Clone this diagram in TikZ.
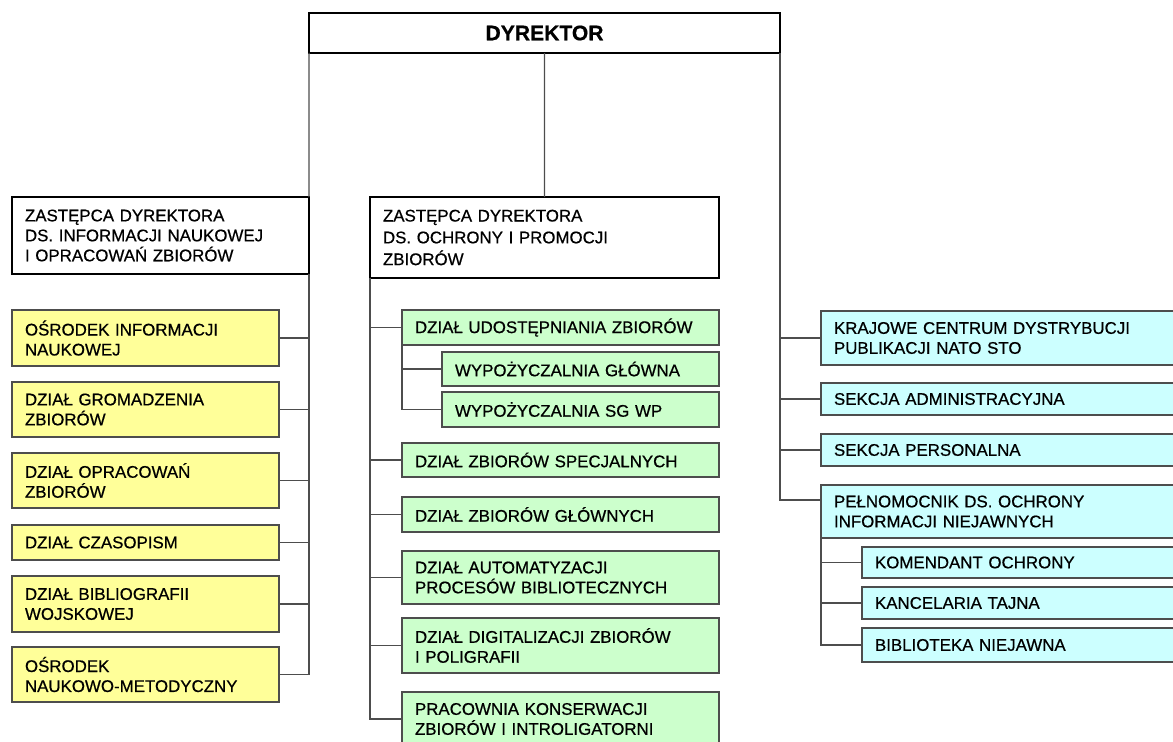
\documentclass[tikz,border=0pt]{standalone}
\usepackage{fontspec}
\setmainfont{Liberation Sans}[FakeBold=0.6]
\usetikzlibrary{positioning}
\definecolor{unityellow}{HTML}{FFFF99}
\definecolor{unitgreen}{HTML}{CCFFCC}
\definecolor{unitcyan}{HTML}{CCFFFF}
\definecolor{linegray}{HTML}{4D4D4D}
\tikzset{
every node/.style={anchor=north west, outer sep=0pt, inner xsep=0.325cm, inner ysep=0pt, align=left, font=\fontsize{12}{14.2}\selectfont}, % boxes are placed by their top left corner
head/.style={draw=black, line width=1.5pt, fill=white}, % director and deputies
unit/.style={draw=linegray, line width=0.9pt}, % every coloured box
yellowunit/.style={unit, fill=unityellow, text width=6.025cm},
greenunit/.style={unit, fill=unitgreen, text width=7.275cm},
greensub/.style={unit, fill=unitgreen, text width=6.275cm},
cyanunit/.style={unit, fill=unitcyan, text width=8.325cm},
cyansub/.style={unit, fill=unitcyan, text width=7.3cm},
link/.style={draw=linegray, line width=0.9pt}, % connecting lines
}
\begin{document}
\begin{tikzpicture}[x=0.025cm, y=-0.025cm]
        \clip (0,0) rectangle (1173,742);

        \node[head, minimum height=1cm, text width=11.125cm, align=center, font=\fontsize{15}{18}\selectfont\bfseries] (dyr) at (309,13) {DYREKTOR};

        % left deputy and its units
        \node[head, minimum height=1.925cm, text width=6.775cm] (depL) at (12,197) {ZASTĘPCA DYREKTORA\\DS. INFORMACJI NAUKOWEJ\\I OPRACOWAŃ ZBIORÓW};
        \node[yellowunit, minimum height=1.4cm] (oni) at (12,310) {OŚRODEK INFORMACJI\\NAUKOWEJ};
        \node[yellowunit, minimum height=1.375cm] (dgz) at (12,382) {DZIAŁ GROMADZENIA\\ZBIORÓW};
        \node[yellowunit, minimum height=1.375cm] (doz) at (12,453) {DZIAŁ OPRACOWAŃ\\ZBIORÓW};
        \node[yellowunit, minimum height=0.875cm] (dcz) at (12,525) {DZIAŁ CZASOPISM};
        \node[yellowunit, minimum height=1.4cm] (dbw) at (12,576) {DZIAŁ BIBLIOGRAFII\\WOJSKOWEJ};
        \node[yellowunit, minimum height=1.375cm] (onm) at (12,647) {OŚRODEK\\NAUKOWO-METODYCZNY};

        % middle deputy and its units
        \node[head, minimum height=2.025cm, text width=8.075cm, font=\fontsize{12}{15.5}\selectfont] (depM) at (370,197) {ZASTĘPCA DYREKTORA\\DS. OCHRONY I PROMOCJI\\ZBIORÓW};
        \node[greenunit, minimum height=0.875cm] (duz) at (402,310) {DZIAŁ UDOSTĘPNIANIA ZBIORÓW};
        \node[greensub, minimum height=0.85cm] (wg) at (442,352) {WYPOŻYCZALNIA GŁÓWNA};
        \node[greensub, minimum height=0.875cm] (wsg) at (442,392) {WYPOŻYCZALNIA SG WP};
        \node[greenunit, minimum height=0.85cm] (dzs) at (402,443) {DZIAŁ ZBIORÓW SPECJALNYCH};
        \node[greenunit, minimum height=0.875cm] (dzg) at (402,497) {DZIAŁ ZBIORÓW GŁÓWNYCH};
        \node[greenunit, minimum height=1.325cm] (dap) at (402,551) {DZIAŁ AUTOMATYZACJI\\PROCESÓW BIBLIOTECZNYCH};
        \node[greenunit, minimum height=1.375cm] (ddz) at (402,618) {DZIAŁ DIGITALIZACJI ZBIORÓW\\I POLIGRAFII};
        \node[greenunit, minimum height=1.35cm] (pkz) at (402,692) {PRACOWNIA KONSERWACJI\\ZBIORÓW I INTROLIGATORNI};

        % units under the director
        \node[cyanunit, minimum height=1.35cm] (kcd) at (821,311) {KRAJOWE CENTRUM DYSTRYBUCJI\\PUBLIKACJI NATO STO};
        \node[cyanunit, minimum height=0.8cm] (sa) at (821,383) {SEKCJA ADMINISTRACYJNA};
        \node[cyanunit, minimum height=0.8cm] (sp) at (821,434) {SEKCJA PERSONALNA};
        \node[cyanunit, minimum height=1.325cm] (pdo) at (821,485) {PEŁNOMOCNIK DS. OCHRONY\\INFORMACJI NIEJAWNYCH};
        \node[cyansub, minimum height=0.775cm] (ko) at (862,547) {KOMENDANT OCHRONY};
        \node[cyansub, minimum height=0.8cm] (kt) at (862,587) {KANCELARIA TAJNA};
        \node[cyansub, minimum height=0.85cm] (bn) at (862,628) {BIBLIOTEKA NIEJAWNA};

        % lines
        \draw[link] (dyr.south west) -- (depL.north east);
        \draw[link] (dyr.south) -- (depM.north);
        \draw[link] (depL.south east) |- (onm.east);
        \draw[link] (oni.east) -- (oni.east -| depL.east);
        \draw[link] (dgz.east) -- (dgz.east -| depL.east);
        \draw[link] (doz.east) -- (doz.east -| depL.east);
        \draw[link] (dcz.east) -- (dcz.east -| depL.east);
        \draw[link] (dbw.east) -- (dbw.east -| depL.east);

        \draw[link] (depM.south west) |- (pkz.west);
        \draw[link] (duz.west) -- (duz.west -| depM.west);
        \draw[link] (dzs.west) -- (dzs.west -| depM.west);
        \draw[link] (dzg.west) -- (dzg.west -| depM.west);
        \draw[link] (dap.west) -- (dap.west -| depM.west);
        \draw[link] (ddz.west) -- (ddz.west -| depM.west);
        \draw[link] (duz.south west) |- (wsg.west);
        \draw[link] (wg.west) -- (wg.west -| duz.west);

        \draw[link] (dyr.south east) |- ([yshift=-0.375cm]pdo.north west);
        \draw[link] (kcd.west) -- (kcd.west -| dyr.east);
        \draw[link] (sa.west) -- (sa.west -| dyr.east);
        \draw[link] (sp.west) -- (sp.west -| dyr.east);
        \draw[link] (pdo.south west) |- (bn.west);
        \draw[link] (ko.west) -- (ko.west -| pdo.west);
        \draw[link] (kt.west) -- (kt.west -| pdo.west);
    \end{tikzpicture}
\end{document}
